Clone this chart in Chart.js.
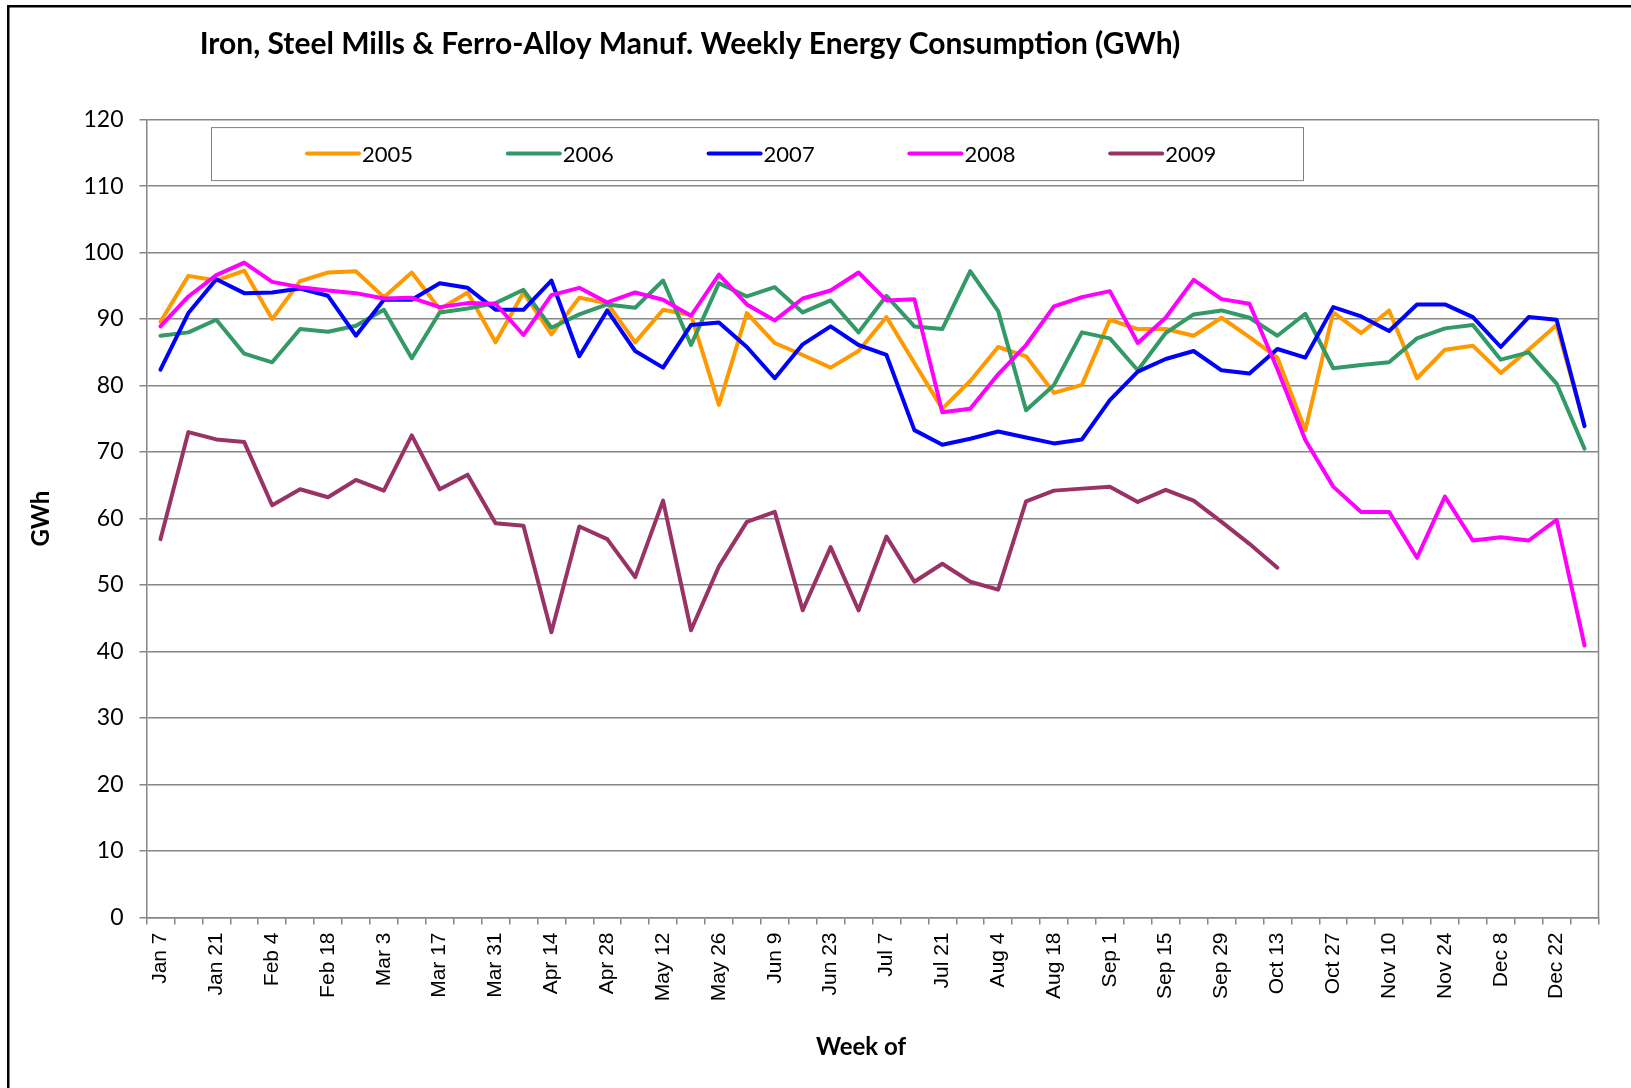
<!DOCTYPE html>
<html>
<head>
<meta charset="utf-8">
<title>Iron, Steel Mills & Ferro-Alloy Weekly Energy</title>
<script src="https://cdn.jsdelivr.net/npm/chart.js@4.4.1/dist/chart.umd.min.js"></script>
<style>
html, body { margin: 0; padding: 0; background: #fff; overflow: hidden; }
#wrap { position: relative; width: 1631px; height: 1088px; }
</style>
</head>
<body>
<div id="wrap"><canvas id="steelChart"></canvas></div>
<script>
// week labels (every second one is shown on the axis)
var weeks = ['Jan 7', 'Jan 14', 'Jan 21', 'Jan 28', 'Feb 4', 'Feb 11', 'Feb 18', 'Feb 25',
    'Mar 3', 'Mar 10', 'Mar 17', 'Mar 24', 'Mar 31', 'Apr 7', 'Apr 14', 'Apr 21', 'Apr 28',
    'May 5', 'May 12', 'May 19', 'May 26', 'Jun 2', 'Jun 9', 'Jun 16', 'Jun 23', 'Jun 30',
    'Jul 7', 'Jul 14', 'Jul 21', 'Jul 28', 'Aug 4', 'Aug 11', 'Aug 18', 'Aug 25',
    'Sep 1', 'Sep 8', 'Sep 15', 'Sep 22', 'Sep 29', 'Oct 6', 'Oct 13', 'Oct 20', 'Oct 27',
    'Nov 3', 'Nov 10', 'Nov 17', 'Nov 24', 'Dec 1', 'Dec 8', 'Dec 15', 'Dec 22', 'Dec 29'];

var years = ['2005', '2006', '2007', '2008', '2009'];

var gwh2005 = [89.6, 96.5, 95.8, 97.3, 90.0, 95.7, 97.0, 97.2, 93.3, 97.0,
    91.5, 94.0, 86.5, 94.0, 87.7, 93.2, 92.4, 86.5, 91.4, 90.6,
    77.1, 90.9, 86.4, 84.6, 82.7, 85.2, 90.3, 83.4, 76.5, 80.7,
    85.8, 84.4, 78.9, 80.1, 89.9, 88.5, 88.5, 87.5, 90.2, 87.3,
    84.2, 73.3, 91.0, 87.9, 91.3, 81.1, 85.4, 86.0, 81.9, 85.4,
    89.1, 74.0];
var gwh2006 = [87.5, 88.0, 89.9, 84.8, 83.5, 88.5, 88.1, 89.0, 91.4, 84.1,
    91.0, 91.6, 92.4, 94.4, 88.7, 90.7, 92.2, 91.7, 95.8, 86.1,
    95.4, 93.4, 94.8, 91.0, 92.8, 88.0, 93.5, 88.9, 88.5, 97.2,
    91.2, 76.3, 80.1, 88.0, 87.1, 82.3, 87.9, 90.7, 91.3, 90.2,
    87.5, 90.8, 82.6, 83.1, 83.5, 87.1, 88.6, 89.1, 83.9, 85.0,
    80.3, 70.5];
var gwh2007 = [82.4, 90.9, 96.0, 93.9, 94.0, 94.6, 93.5, 87.5, 92.9, 92.9,
    95.4, 94.7, 91.4, 91.4, 95.8, 84.4, 91.3, 85.2, 82.7, 89.1,
    89.5, 85.8, 81.1, 86.2, 88.9, 86.1, 84.6, 73.3, 71.1, 72.0,
    73.1, 72.2, 71.3, 71.9, 77.8, 82.1, 84.0, 85.2, 82.3, 81.8,
    85.5, 84.2, 91.8, 90.4, 88.2, 92.2, 92.2, 90.3, 85.8, 90.3,
    89.9, 73.9];
var gwh2008 = [88.9, 93.4, 96.6, 98.5, 95.6, 94.8, 94.3, 93.9, 93.1, 93.2,
    91.8, 92.4, 92.3, 87.6, 93.6, 94.7, 92.5, 94.0, 92.9, 90.5,
    96.7, 92.2, 89.8, 93.1, 94.3, 97.0, 92.8, 93.0, 76.0, 76.5,
    81.7, 86.1, 91.9, 93.3, 94.2, 86.4, 90.2, 95.9, 93.0, 92.3,
    82.5, 71.8, 64.8, 61.0, 61.0, 54.1, 63.3, 56.7, 57.2, 56.7,
    59.8, 40.9];
var gwh2009 = [56.9, 73.0, 71.9, 71.5, 62.0, 64.4, 63.2, 65.8, 64.2, 72.5,
    64.4, 66.6, 59.3, 58.9, 42.9, 58.8, 56.9, 51.2, 62.7, 43.2,
    52.8, 59.5, 61.0, 46.2, 55.7, 46.2, 57.3, 50.5, 53.2, 50.5,
    49.3, 62.6, 64.2, 64.5, 64.8, 62.5, 64.3, 62.7, 59.5, 56.2,
    52.6, null, null, null, null, null, null, null, null, null,
    null, null];

var yTicks = [0, 10, 20, 30, 40, 50, 60, 70, 80, 90, 100, 110, 120];

var colors = ['#FF9900', '#339966', '#0000FF', '#FF00FF', '#993366'];
var titleText = 'Iron, Steel Mills & Ferro-Alloy Manuf. Weekly Energy Consumption (GWh)';
var xTitle = 'Week of';
var gridGrey = '#868686';

// outer frame, chart title, x title and the boxed legend inside the plot
var overlay = {
    id: 'overlay',
    beforeDraw: function (chart) {
        var ctx = chart.ctx;
        ctx.save();
        ctx.fillStyle = '#fff';
        ctx.fillRect(0, 0, chart.width, chart.height);
        ctx.fillStyle = '#000';
        ctx.fillRect(7, 5, chart.width, 2.5);
        ctx.fillRect(7, 5, 2.5, chart.height);
        ctx.restore();
    },
    afterDraw: function (chart) {
        var ctx = chart.ctx;
        var a = chart.chartArea;
        ctx.save();
        ctx.strokeStyle = gridGrey;
        ctx.lineWidth = 1.5;
        ctx.beginPath();
        ctx.moveTo(a.right, a.top);
        ctx.lineTo(a.right, a.bottom);
        ctx.stroke();

        ctx.fillStyle = '#000';
        ctx.font = 'bold 30px Lato';
        ctx.textAlign = 'center';
        ctx.textBaseline = 'middle';
        ctx.fillText(titleText, 690, 44);

        ctx.font = 'bold 24px Lato';
        ctx.fillText(xTitle, 861, 1047);

        var lx = a.left + 64.5, ly = a.top + 7.5, lw = 1092, lh = 53;
        ctx.fillStyle = '#fff';
        ctx.fillRect(lx, ly, lw, lh);
        ctx.strokeStyle = '#808080';
        ctx.lineWidth = 1;
        ctx.strokeRect(lx + 0.5, ly + 0.5, lw, lh);
        chart.data.datasets.forEach(function (ds, i) {
            var x = lx + 96 + i * 200.8, y = ly + 26.5;
            ctx.strokeStyle = ds.borderColor;
            ctx.lineWidth = 4;
            ctx.lineCap = 'round';
            ctx.beginPath();
            ctx.moveTo(x, y);
            ctx.lineTo(x + 52, y);
            ctx.stroke();
            ctx.fillStyle = '#000';
            ctx.font = '22px Lato';
            ctx.textAlign = 'left';
            ctx.fillText(ds.label, x + 55, y + 1);
        });
        ctx.restore();
    }
};

var series = [gwh2005, gwh2006, gwh2007, gwh2008, gwh2009];
var datasets = years.map(function (yr, i) {
    return {
        label: yr,
        data: series[i],
        borderColor: colors[i],
        backgroundColor: colors[i],
        borderWidth: 4,
        pointRadius: 0,
        pointHoverRadius: 0,
        tension: 0,
        borderJoinStyle: 'round',
        borderCapStyle: 'round',
        spanGaps: false,
        order: years.length - i, // later years on top, like the original
    };
});

Chart.defaults.color = '#000';

var steelChart = new Chart(document.getElementById('steelChart'), {
    type: 'line',
    data: {
        labels: weeks,
        datasets: datasets,
    },
    plugins: [overlay],
    options: {
        responsive: true,
        maintainAspectRatio: false,
        animation: false,
        layout: {
            padding: { top: 119.6, right: 32.5, left: 0, bottom: 0 },
        },
        plugins: {
            legend: { display: false },
            title: { display: false },
            tooltip: { enabled: false },
        },
        scales: {
            x: {
                offset: true,
                ticks: {
                    autoSkip: false,
                    maxRotation: 90,
                    minRotation: 90,
                    padding: 8,
                    color: '#000',
                    font: { family: 'Liberation Sans', size: 21 },
                    callback: function (v, i) {
                        return i % 2 === 0 ? this.getLabelForValue(v) : '';
                    },
                },
                grid: {
                    offset: true,
                    drawOnChartArea: false,
                    drawTicks: true,
                    tickLength: 7,
                    color: gridGrey,
                    lineWidth: 1.5,
                },
                border: { color: gridGrey, width: 1.5 },
                afterFit: function (scale) { scale.height = 170.5; },
            },
            y: {
                min: yTicks[0],
                max: yTicks[yTicks.length - 1],
                afterBuildTicks: function (scale) {
                    scale.ticks = yTicks.map(function (v) { return { value: v }; });
                },
                ticks: {
                    padding: 16,
                    color: '#000',
                    font: { family: 'Lato', size: 23 },
                },
                grid: {
                    color: gridGrey,
                    lineWidth: 1.5,
                    tickLength: 7,
                },
                border: { color: gridGrey, width: 1.5 },
                title: {
                    display: true,
                    text: 'GWh',
                    color: '#000',
                    font: { family: 'Lato', size: 24, weight: 'bold' },
                    padding: { top: 27, bottom: 0 },
                },
                afterFit: function (scale) { scale.width = 146.5; },
            },
        },
    },
});
</script>
</body>
</html>
